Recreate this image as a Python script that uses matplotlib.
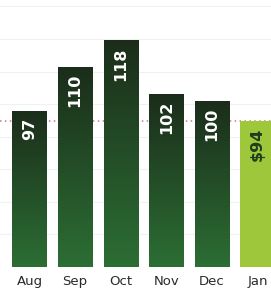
import numpy as np
import matplotlib
matplotlib.use("Agg")
import matplotlib.pyplot as plt
from matplotlib.colors import LinearSegmentedColormap

months = ["Aug", "Sep", "Oct", "Nov", "Dec", "Jan"]
values = [97, 110, 118, 102, 100, 94]
labels = ["97", "110", "118", "102", "100", "$94"]
ref_value = 94

fig = plt.figure(figsize=(2.71, 2.93), dpi=100)
fig.patch.set_facecolor("white")
ax = fig.add_axes([0, 26/293, 1, 267/293])
ax.set_facecolor("white")

x = np.arange(len(months))
ymin, ymax = 50.5, 130
ax.set_xlim(-0.647, 5.296)
ax.set_ylim(ymin, ymax)

# faint grid
for gy in np.arange(ymin, ymax + 1, 9.7):
    ax.axhline(gy, color="#f1f1f1", lw=0.8, zorder=0)

ax.axhline(ref_value, color="#c97a7a", lw=1.1, ls=(0, (1, 2.2)), zorder=1)

dark = LinearSegmentedColormap.from_list("g", ["#2c6e34", "#1b2d1a"])
grad = np.linspace(0, 1, 256).reshape(-1, 1)
width = 0.75
bars = ax.bar(x, [v - ymin for v in values], bottom=ymin, width=width,
              color="none", edgecolor="none", zorder=2)
for i, b in enumerate(bars):
    if i < len(values) - 1:
        im = ax.imshow(grad, cmap=dark, aspect="auto", origin="lower",
                       extent=[x[i] - width/2, x[i] + width/2, ymin, values[i]],
                       zorder=2)
        im.set_clip_path(b)
        col = "white"
    else:
        b.set_facecolor("#9fc73b")
        col = "#1f3d1d"
    ax.annotate(labels[i], (x[i], values[i]), xytext=(0, -5),
                textcoords="offset points", rotation=90, ha="center", va="top",
                color=col, fontsize=11.5, fontweight="bold", zorder=4)

ax.set_xlim(-0.647, 5.296)
ax.set_ylim(ymin, ymax)
ax.set_xticks(x)
ax.set_xticklabels(months, fontsize=9.5, color="#2a2a2a")
ax.tick_params(axis="x", length=0, pad=6)
ax.set_yticks([])
for s in ax.spines.values():
    s.set_visible(False)

fig.savefig("out.png", dpi=100, facecolor="white")
